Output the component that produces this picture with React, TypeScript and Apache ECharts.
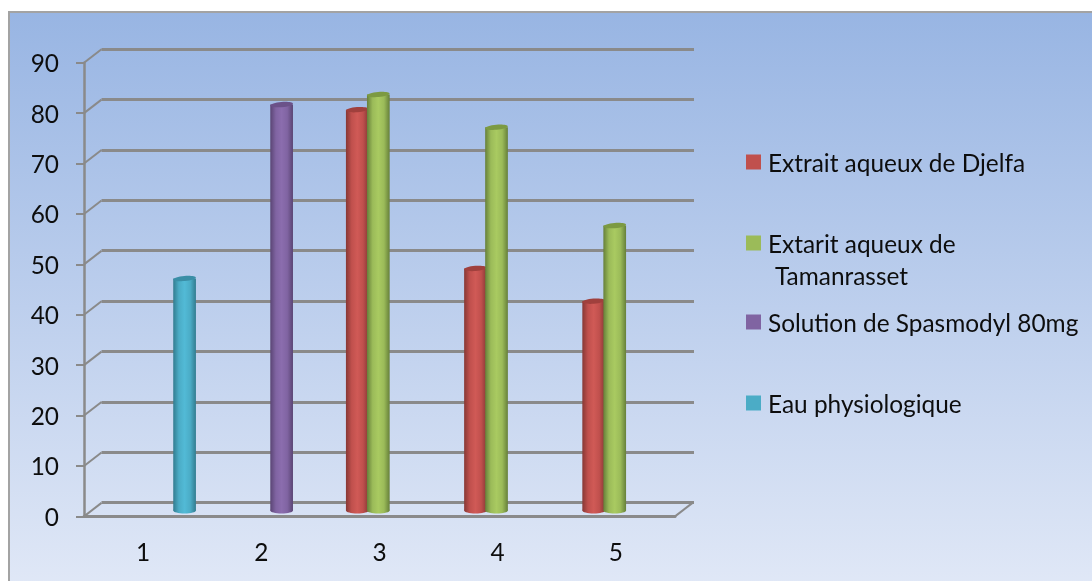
import React, { useEffect, useRef } from "react";
import * as echarts from "echarts";

const categories = ["1", "2", "3", "4", "5"];
const djelfa = [null, null, 79.5, 48, 41.5];
const tamanrasset = [null, null, 82.5, 76, 56.5];
const spasmodyl = [null, 80.5, null, null, null];
const eau = [46, null, null, null, null];
const yTicks = [0, 10, 20, 30, 40, 50, 60, 70, 80, 90];

const FONT = "Lato";
const TEXT_SIZE = 24.4;
const GRID_GREY = "#8a8a8a";
const DEPTH_X = 17.5;
const DEPTH_Y = -13.5;

type Palette = { base: string; edge: string; mid: string; cap: string };

// Shape of one cylinder: horizontal shading, rounded foot and a darker tilted cap.
function cylinderSeries(
  name: string,
  values: (number | null)[],
  slotOffset: number,
  palette: Palette
) {
  const data = values
    .map((v, i) => (v === null ? null : [i, v]))
    .filter((d) => d !== null);
  return {
    type: "custom",
    name,
    xAxisIndex: 0,
    yAxisIndex: 0,
    clip: false,
    z: 10,
    data,
    encode: { x: 0, y: 1 },
    itemStyle: { color: palette.base },
    renderItem: (_params: any, api: any) => {
      const top = api.coord([api.value(0), api.value(1)]);
      const base = api.coord([api.value(0), 0]);
      const band = api.size([1, 0])[0];
      const w = band * 0.192;
      const left = top[0] + band * slotOffset;
      const yTop = top[1] - 6;
      const yBase = base[1] - 6;
      const rx = w / 2;
      const shade = {
        type: "linear",
        x: 0,
        y: 0,
        x2: 1,
        y2: 0,
        colorStops: [
          { offset: 0, color: palette.edge },
          { offset: 0.25, color: palette.base },
          { offset: 0.5, color: palette.mid },
          { offset: 0.75, color: palette.base },
          { offset: 1, color: palette.edge },
        ],
      };
      return {
        type: "group",
        children: [
          {
            type: "ellipse",
            shape: { cx: left + rx, cy: yBase, rx, ry: 3 },
            style: { fill: shade },
          },
          {
            type: "rect",
            shape: { x: left, y: yTop, width: w, height: yBase - yTop },
            style: { fill: shade },
          },
          {
            type: "ellipse",
            shape: { cx: 0, cy: 0, rx, ry: 2.6 },
            x: left + rx,
            y: yTop,
            rotation: 0.08,
            style: { fill: palette.cap },
          },
        ],
      };
    },
  };
}

// Oblique segments joining the front axis to the back wall at each tick.
const depthLines = {
  type: "custom",
  xAxisIndex: 0,
  yAxisIndex: 0,
  clip: false,
  silent: true,
  z: 3,
  data: yTicks.map((v) => [0, v]),
  encode: { x: 0, y: 1 },
  renderItem: (params: any, api: any) => {
    const p = api.coord([0, api.value(1)]);
    const sys = params.coordSys;
    const lines = [
      {
        type: "line",
        shape: {
          x1: sys.x,
          y1: p[1],
          x2: sys.x + DEPTH_X,
          y2: p[1] + DEPTH_Y,
        },
        style: { stroke: GRID_GREY, lineWidth: 2 },
      },
    ];
    if (api.value(1) === 0) {
      lines.push({
        type: "line",
        shape: {
          x1: sys.x + sys.width,
          y1: p[1],
          x2: sys.x + sys.width + DEPTH_X,
          y2: p[1] + DEPTH_Y,
        },
        style: { stroke: GRID_GREY, lineWidth: 2 },
      });
    }
    return { type: "group", children: lines };
  },
};

const legendLabel = (name: string, top: number, text: string, color: string) => ({
  left: 746,
  top,
  padding: 0,
  orient: "vertical",
  selectedMode: false,
  itemWidth: 15,
  itemHeight: 15,
  formatter: () => text,
  textStyle: {
    fontFamily: FONT,
    fontSize: TEXT_SIZE,
    color: "#0d0d0d",
    padding: [4, 0, 0, 2],
  },
  data: [{ name, icon: "rect", itemStyle: { color } }],
});

export default function App() {
  const ref = useRef<HTMLDivElement>(null);

  useEffect(() => {
    document.body.style.margin = "0";
    const chart = echarts.init(ref.current!, undefined, { renderer: "svg" });
    const names = [
      "Extrait aqueux de Djelfa",
      "Extarit aqueux de Tamanrasset",
      "Solution de Spasmodyl 80mg",
      "Eau physiologique",
    ];
    chart.setOption({
      animation: false,
      textStyle: { fontFamily: FONT },
      grid: [
        { left: 84, right: 417, top: 62.7, bottom: 64.6 },
        { left: 101.5, right: 398, top: 49, bottom: 78.3 },
      ],
      xAxis: [
        {
          type: "category",
          gridIndex: 0,
          data: categories,
          boundaryGap: true,
          axisLine: { lineStyle: { color: GRID_GREY, width: 3 } },
          axisTick: { length: 7, lineStyle: { color: GRID_GREY, width: 2 } },
          axisLabel: {
            fontFamily: FONT,
            fontSize: TEXT_SIZE,
            color: "#0d0d0d",
            margin: 23,
          },
        },
        {
          type: "category",
          gridIndex: 1,
          data: categories,
          axisLine: { show: false },
          axisTick: { show: false },
          axisLabel: { show: false },
        },
      ],
      yAxis: [
        {
          type: "value",
          gridIndex: 0,
          min: 0,
          max: 90,
          interval: 10,
          axisLine: { show: true, lineStyle: { color: GRID_GREY, width: 2.5 } },
          axisTick: { show: true, length: 8, lineStyle: { color: GRID_GREY, width: 2 } },
          axisLabel: {
            fontFamily: FONT,
            fontSize: TEXT_SIZE,
            color: "#0d0d0d",
            margin: 25,
            padding: [5, 0, 0, 0],
          },
          splitLine: { show: false },
        },
        {
          type: "value",
          gridIndex: 1,
          min: 0,
          max: 90,
          interval: 10,
          axisLine: { show: false },
          axisTick: { show: false },
          axisLabel: { show: false },
          splitLine: { show: true, lineStyle: { color: GRID_GREY, width: 3 } },
        },
      ],
      legend: [
        legendLabel(names[0], 150, "Extrait aqueux de Djelfa", "#c0504d"),
        legendLabel(names[1], 231, "Extarit aqueux de", "#9bbb59"),
        legendLabel(names[2], 310, "Solution de Spasmodyl 80mg", "#8064a2"),
        legendLabel(names[3], 391, "Eau physiologique", "#4bacc6"),
      ],
      graphic: [
        {
          type: "rect",
          z: -10,
          silent: true,
          shape: { x: 9, y: 12, width: 1100, height: 590 },
          style: {
            stroke: "#a3a3a3",
            lineWidth: 2,
            fill: {
              type: "linear",
              x: 0,
              y: 0,
              x2: 0,
              y2: 1,
              colorStops: [
                { offset: 0, color: "#98b5e3" },
                { offset: 1, color: "#e2e9f7" },
              ],
            },
          },
        },
        {
          type: "text",
          x: 775,
          y: 263,
          style: {
            text: "Tamanrasset",
            fontFamily: FONT,
            fontSize: TEXT_SIZE,
            fill: "#0d0d0d",
          },
        },
      ],
      series: [
        depthLines,
        cylinderSeries(names[0], djelfa, -0.284, {
          base: "#c0504d",
          edge: "#873835",
          mid: "#d05a56",
          cap: "#a0403d",
        }),
        cylinderSeries(names[1], tamanrasset, -0.106, {
          base: "#9bbb59",
          edge: "#66803a",
          mid: "#a9ca61",
          cap: "#7c9a42",
        }),
        cylinderSeries(names[2], spasmodyl, 0.076, {
          base: "#8064a2",
          edge: "#5a4574",
          mid: "#8b6dae",
          cap: "#6b5289",
        }),
        cylinderSeries(names[3], eau, 0.255, {
          base: "#4bacc6",
          edge: "#327c90",
          mid: "#52bad6",
          cap: "#3a8ea6",
        }),
      ],
    });
    return () => chart.dispose();
  }, []);

  return (
    <div
      ref={ref}
      style={{ position: "fixed", left: 0, top: 0, width: 1092, height: 581 }}
    />
  );
}
